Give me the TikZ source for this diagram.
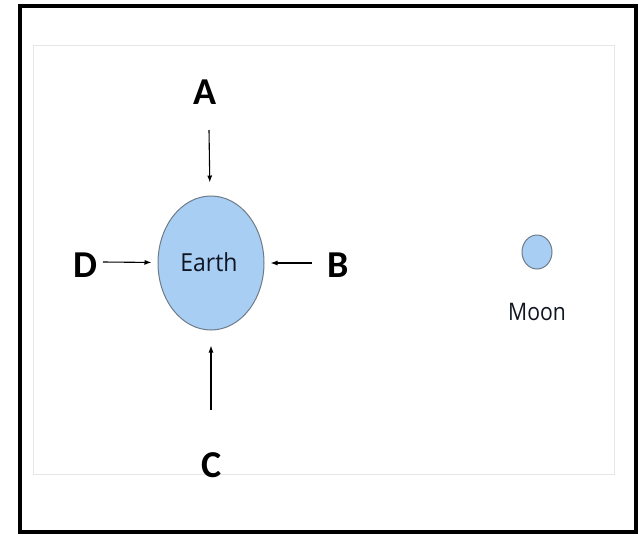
\documentclass[tikz,border=0pt]{standalone}
\usepackage{fontspec}
\setmainfont{Open Sans}
\newfontfamily\labelfont{Carlito}
\usetikzlibrary{arrows.meta, positioning, shapes.geometric}
\definecolor{earthBlue}{HTML}{A9CEF4}
\definecolor{rimGray}{HTML}{6E7B88}
\definecolor{panelGray}{HTML}{E6E6E6}
\definecolor{textDark}{HTML}{101522}

\begin{document}
\begin{tikzpicture}[x=1pt, y=-1pt,
    letter/.style={font=\labelfont\bfseries\fontsize{38}{40}\selectfont, inner sep=0pt},
    body/.style={ellipse, draw=rimGray, line width=1pt, fill=earthBlue, inner sep=0pt},
    bodytext/.style={font=\fontsize{23}{26}\selectfont\color{textDark}, inner sep=0pt},
    arr/.style={-{Latex[length=7pt, width=5pt]}, line width=1.1pt, black},
  ]
    \useasboundingbox (0,0) rectangle (643,536);
    % frame and panel
    \draw[line width=3.5pt] (20,6) rectangle (636,532);
    \draw[panelGray, line width=0.6pt] (33,45) rectangle (614,474);

    \node[body, minimum width=106pt, minimum height=134pt] (earth) at (211,263) {};
    \node[bodytext, yscale=1.08] (earthtext) at (209,262) {Earth};
    \node[body, minimum width=30pt, minimum height=34pt] (moon) at (537,252) {};
    \node[bodytext, xscale=0.92, yscale=1.05] (moontext) at (537,312) {Moon};

    \node[letter] (A) at (205,92) {A};
    \node[letter] (B) at (338,265) {B};
    \node[letter] (C) at (212,465) {C};
    \node[letter] (D) at (85,265) {D};

    \coordinate (tailA) at (209,130);
    \coordinate (tailB) at (312,263);
    \coordinate (tailC) at (211,410);
    \coordinate (tailD) at (103,262);
    \draw[arr, shorten >=13pt] (tailA) -- (earth);
    \draw[arr, shorten >=6pt] (tailB) -- (earth);
    \draw[arr, shorten >=15pt] (tailC) -- (earth);
    \draw[arr, shorten >=6pt] (tailD) -- (earth);
  \end{tikzpicture}
\end{document}
